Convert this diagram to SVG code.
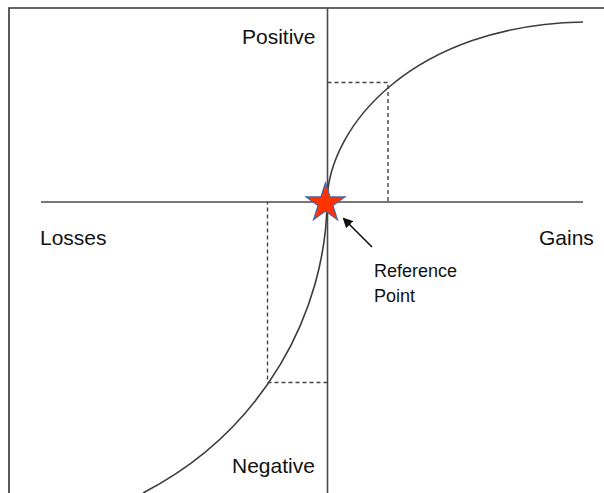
<svg xmlns="http://www.w3.org/2000/svg" width="604" height="493" viewBox="0 0 604 493">
<style>
.lbl{font-family:"Liberation Sans",Arial,sans-serif;font-size:21px;fill:#111}
.small{font-size:18px}
.axis{stroke:#4a4a4a;stroke-width:1.6;fill:none}
.curve{stroke:#3c3c3c;stroke-width:1.6;fill:none}
.dash{stroke:#444;stroke-width:1.4;fill:none;stroke-dasharray:4 3}
</style>
<defs>
<marker id="ah" markerWidth="10" markerHeight="10" refX="8" refY="5" orient="auto" markerUnits="userSpaceOnUse">
<path d="M0,0 L10,5 L0,10 z" fill="#111"/>
</marker>
</defs>
<rect width="604" height="493" fill="#fff"/>
<g id="frame">
<path d="M9,493 V8 H604" stroke="#333" stroke-width="1.6" fill="none"/>
</g>
<g id="axes">
<line class="axis" x1="41" y1="202" x2="583" y2="202"/>
<line class="axis" x1="327.5" y1="8" x2="327.5" y2="493"/>
</g>
<g id="guides">
<path class="dash" d="M327.5,82.5 H388 V202"/>
<path class="dash" d="M327.5,382.5 H267.5 V202"/>
</g>
<g id="value-curve">
<path class="curve" d="M327,202 C328,125 415,25 583,22"/>
<path class="curve" d="M327,202 C326,310 265,430 143,493"/>
</g>
<g id="connectors">
<line x1="372" y1="247" x2="344" y2="219" stroke="#111" stroke-width="1.6" marker-end="url(#ah)"/>
</g>
<g id="reference-star">
<polygon points="325.5,182.8 330.1,196.9 345,196.9 333,205.6 337.5,219.8 325.5,211 313.5,219.8 318,205.6 306,196.9 320.9,196.9" fill="#ff3300" stroke="#4a64a8" stroke-width="1.2"/>
</g>
<g id="labels">
<text class="lbl" x="242" y="44">Positive</text>
<text class="lbl" x="232" y="473">Negative</text>
<text class="lbl" x="40" y="245">Losses</text>
<text class="lbl" x="539" y="245">Gains</text>
<text class="lbl small" x="374" y="277">Reference</text>
<text class="lbl small" x="374" y="302">Point</text>
</g>
</svg>
